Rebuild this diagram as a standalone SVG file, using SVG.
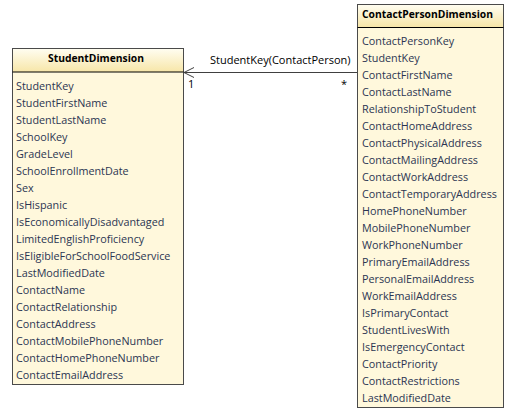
<svg xmlns="http://www.w3.org/2000/svg" width="513" height="416" viewBox="0 0 513 416">
<defs>
<linearGradient id="hdr" x1="0" y1="0" x2="0" y2="1">
<stop offset="0" stop-color="#fffdf0"/>
<stop offset="1" stop-color="#f7e6a8"/>
</linearGradient>
<marker id="open" viewBox="0 0 12 12" refX="11" refY="6" markerWidth="12" markerHeight="12" markerUnits="userSpaceOnUse" orient="auto">
<path d="M1,1 L11,6 L1,11" fill="none" stroke="#404040" stroke-width="1"/>
</marker>
</defs>
<style>
.box{fill:#fff8dc;stroke:#4a4a4a;stroke-width:1}
.hd{fill:url(#hdr)}
.sep{stroke:#000;stroke-width:1}
.t{font-family:"Open Sans","Noto Sans",sans-serif;font-size:10.8px;fill:#2b3552}
.h{font-family:"Open Sans","Noto Sans",sans-serif;font-size:11px;font-weight:bold;fill:#000}
.lbl{font-family:"Open Sans","Noto Sans",sans-serif;font-size:11px;fill:#000}
.conn{stroke:#404040;stroke-width:1;fill:none}
</style>
<rect width="513" height="416" fill="#fff"/>
<g id="connectors">
<path class="conn" d="M357,72.5 L184,72.5" marker-end="url(#open)"/>
<text class="lbl" x="210" y="64">StudentKey(ContactPerson)</text>
<text class="lbl" x="188" y="88">1</text>
<text class="lbl" x="341" y="88">*</text>
</g>
<g id="StudentDimension">
<rect class="box" x="12.5" y="48.5" width="171" height="336"/>
<rect class="hd" x="13" y="49" width="170" height="23"/>
<line class="sep" x1="12.5" y1="72" x2="183.5" y2="72"/>
<text class="h" x="48" y="62" textLength="96" lengthAdjust="spacingAndGlyphs">StudentDimension</text>
<text class="t" x="16" y="90">StudentKey</text>
<text class="t" x="16" y="107">StudentFirstName</text>
<text class="t" x="16" y="124">StudentLastName</text>
<text class="t" x="16" y="141">SchoolKey</text>
<text class="t" x="16" y="158">GradeLevel</text>
<text class="t" x="16" y="175">SchoolEnrollmentDate</text>
<text class="t" x="16" y="192">Sex</text>
<text class="t" x="16" y="209">IsHispanic</text>
<text class="t" x="16" y="226">IsEconomicallyDisadvantaged</text>
<text class="t" x="16" y="243">LimitedEnglishProficiency</text>
<text class="t" x="16" y="260">IsEligibleForSchoolFoodService</text>
<text class="t" x="16" y="277">LastModifiedDate</text>
<text class="t" x="16" y="294">ContactName</text>
<text class="t" x="16" y="311">ContactRelationship</text>
<text class="t" x="16" y="328">ContactAddress</text>
<text class="t" x="16" y="345">ContactMobilePhoneNumber</text>
<text class="t" x="16" y="362">ContactHomePhoneNumber</text>
<text class="t" x="16" y="379">ContactEmailAddress</text>
</g>
<g id="ContactPersonDimension">
<rect class="box" x="357.5" y="4.5" width="146" height="403"/>
<rect class="hd" x="358" y="5" width="145" height="22"/>
<line class="sep" x1="357.5" y1="27.5" x2="503.5" y2="27.5"/>
<text class="h" x="362" y="18" textLength="131" lengthAdjust="spacingAndGlyphs">ContactPersonDimension</text>
<text class="t" x="362" y="45">ContactPersonKey</text>
<text class="t" x="362" y="62">StudentKey</text>
<text class="t" x="362" y="79">ContactFirstName</text>
<text class="t" x="362" y="96">ContactLastName</text>
<text class="t" x="362" y="113">RelationshipToStudent</text>
<text class="t" x="362" y="130">ContactHomeAddress</text>
<text class="t" x="362" y="147">ContactPhysicalAddress</text>
<text class="t" x="362" y="164">ContactMailingAddress</text>
<text class="t" x="362" y="181">ContactWorkAddress</text>
<text class="t" x="362" y="198">ContactTemporaryAddress</text>
<text class="t" x="362" y="215">HomePhoneNumber</text>
<text class="t" x="362" y="232">MobilePhoneNumber</text>
<text class="t" x="362" y="249">WorkPhoneNumber</text>
<text class="t" x="362" y="266">PrimaryEmailAddress</text>
<text class="t" x="362" y="283">PersonalEmailAddress</text>
<text class="t" x="362" y="300">WorkEmailAddress</text>
<text class="t" x="362" y="317">IsPrimaryContact</text>
<text class="t" x="362" y="334">StudentLivesWith</text>
<text class="t" x="362" y="351">IsEmergencyContact</text>
<text class="t" x="362" y="368">ContactPriority</text>
<text class="t" x="362" y="385">ContactRestrictions</text>
<text class="t" x="362" y="402">LastModifiedDate</text>
</g>
</svg>
